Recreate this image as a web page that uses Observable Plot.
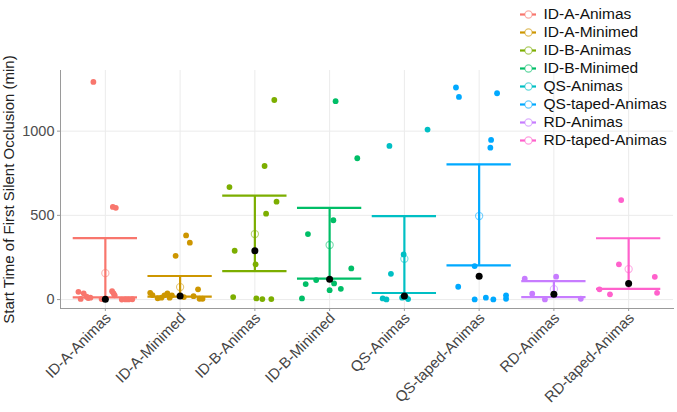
<!DOCTYPE html>
<html>
<head>
<meta charset="utf-8">
<script src="https://cdn.jsdelivr.net/npm/d3@7"></script>
<script src="https://cdn.jsdelivr.net/npm/@observablehq/plot@0.6"></script>
<style>
  html, body { margin: 0; padding: 0; background: #fff; }
  #wrap { position: relative; width: 677px; height: 412px; font-family: "Liberation Sans", Arial, sans-serif; }
  #chart svg, #legend svg { display: block; }
  #legend { position: absolute; left: 510px; top: 0px; }
</style>
</head>
<body>
<div id="wrap"><div id="chart"></div><div id="legend"></div></div>
<script>
// ---- data ----
const categories = ["ID-A-Animas", "ID-A-Minimed", "ID-B-Animas", "ID-B-Minimed",
  "QS-Animas", "QS-taped-Animas", "RD-Animas", "RD-taped-Animas"];

// individual observations per category (min)
const pointValues = [
  [1292, 550, 545, 46, 37, 17, 9, 11, 50, 37, 25, 1, 2, 3, 0, 4, 1],
  [381, 338, 260, 61, 40, 27, 11, 25, 37, 11, 25, 5, 5, 15, 8, 20],
  [1185, 793, 668, 581, 510, 290, 209, 15, 7, 3, 3],
  [1178, 839, 471, 389, 185, 116, 92, 96, 56, 64, 7],
  [1009, 912, 268, 153, 7, 1, 11, 3, 25, 15],
  [1259, 1203, 1225, 948, 902, 199, 76, 1, 11, 1, 25, 5],
  [136, 124, 35, 1, 5],
  [591, 209, 135, 61, 31, 40]
];
// horizontal jitter of each observation (fraction of category spacing)
const pointJitter = [
  [-0.16, 0.10, 0.14, -0.36, -0.29, -0.25, -0.23, -0.20, 0.09, 0.11, 0.125, 0.31, 0.36, -0.05, 0.22, -0.33, 0.27],
  [0.08, 0.13, -0.06, 0.24, -0.40, -0.37, -0.25, -0.21, -0.17, -0.14, -0.11, 0.26, 0.30, 0.05, -0.30, 0.18],
  [0.26, 0.13, -0.34, 0.29, 0.15, -0.27, 0.01, -0.29, 0.02, 0.10, 0.22],
  [0.08, 0.37, 0.05, -0.29, 0.29, -0.18, -0.32, 0.06, 0.00, 0.15, -0.37],
  [0.31, -0.20, -0.01, -0.18, -0.29, -0.24, -0.03, 0.05, 0.00, 0.02],
  [-0.31, -0.27, 0.24, 0.16, 0.15, -0.06, -0.28, -0.06, 0.09, 0.19, 0.36, 0.36],
  [0.03, -0.39, -0.29, -0.12, 0.36],
  [-0.10, -0.13, 0.35, -0.39, -0.25, 0.38]
];
// summary statistics per category
const means   = [157, 74, 389, 324, 242, 496, 62, 181];
const medians = [2, 21, 290, 120, 21, 138, 31, 96];
const lowers  = [13, 17, 169, 124, 39, 203, 15, 64];
const uppers  = [365, 140, 617, 544, 496, 803, 110, 364];

const yTicks = [0, 500, 1000];
const yLabel = "Start Time of First Silent Occlusion (min)";

// ---- styles ----
const palette = ["#F8766D", "#CD9600", "#7CAE00", "#00BE67", "#00BFC4", "#00A9FF", "#C77CFF", "#FF61CC"];
const font = '"Liberation Sans", Arial, sans-serif';
const capHalf = 0.43;

// ---- build tables ----
const points = [];
pointValues.forEach((vals, i) => vals.forEach((v, j) => points.push({
  cat: categories[i], pos: i + 1 + pointJitter[i][j], value: v
})));
const summary = categories.map((c, i) => ({
  cat: c, pos: i + 1, mean: means[i], median: medians[i], lower: lowers[i], upper: uppers[i]
}));
const positions = categories.map((c, i) => i + 1);

const chart = Plot.plot({
  width: 677, height: 412,
  marginTop: 70, marginBottom: 104, marginLeft: 60, marginRight: 4,
  style: { fontFamily: font, fontSize: "14px", background: "white", overflow: "visible" },
  x: { type: "linear", domain: [0.4, 8.6] },
  y: { domain: [-53, 1360] },
  color: { domain: categories, range: palette },
  marks: [
    Plot.gridY(yTicks, { stroke: "#ebebeb", strokeOpacity: 1, strokeWidth: 1 }),
    Plot.gridX(positions, { stroke: "#ebebeb", strokeOpacity: 1, strokeWidth: 1 }),
    Plot.axisY(yTicks, { tickSize: 3, tickPadding: 3, fontSize: 14.5, fill: "#4d4d4d", stroke: "#9a9a9a",
      tickFormat: (d) => String(d), label: null }),
    // x tick marks
    Plot.axisX(positions, { tickSize: 3, stroke: "#9a9a9a", tickFormat: () => "", label: null }),
    // x tick labels (rotated)
    Plot.axisX(positions, { tickSize: 0, tickPadding: 6, fontSize: 15, fill: "#444",
      tickFormat: (d) => categories[d - 1], tickRotate: -45, textAnchor: "end", dx: 3, dy: 1, label: null }),
    Plot.frame({ anchor: "left", stroke: "#9a9a9a" }),
    Plot.frame({ anchor: "bottom", stroke: "#9a9a9a" }),
    Plot.text([yLabel], { frameAnchor: "left", rotate: -90, dx: -51, fontSize: 15, fill: "#222", textAnchor: "middle" }),
    // error bars
    Plot.ruleX(summary, { x: "pos", y1: "lower", y2: "upper", stroke: "cat", strokeWidth: 2.2 }),
    Plot.ruleY(summary, { y: "upper", x1: (d) => d.pos - capHalf, x2: (d) => d.pos + capHalf, stroke: "cat", strokeWidth: 2.2 }),
    Plot.ruleY(summary, { y: "lower", x1: (d) => d.pos - capHalf, x2: (d) => d.pos + capHalf, stroke: "cat", strokeWidth: 2.2 }),
    // observations
    Plot.dot(points, { x: "pos", y: "value", fill: "cat", r: 2.9 }),
    // mean (open) and median (black)
    Plot.dot(summary, { x: "pos", y: "mean", stroke: "cat", strokeOpacity: 0.55, fill: "none", r: 3.6, strokeWidth: 1.1 }),
    Plot.dot(summary, { x: "pos", y: "median", fill: "black", r: 3.5 })
  ]
});
document.getElementById("chart").appendChild(chart);

// ---- legend (overlaid at top right) ----
const legend = Plot.plot({
  width: 167, height: 152, margin: 0,
  style: { fontFamily: font, fontSize: "15px", background: "transparent", overflow: "visible" },
  x: { type: "linear", domain: [0, 1], range: [10, 26], axis: null },
  y: { type: "point", domain: categories, range: [11, 142], padding: 0, axis: null },
  color: { domain: categories, range: palette },
  marks: [
    Plot.ruleY(categories, { y: (d) => d, x1: 0, x2: 1, stroke: (d) => d, strokeWidth: 2.2 }),
    Plot.dot(categories, { y: (d) => d, x: 0.5, stroke: (d) => d, strokeOpacity: 0.6, fill: "white", r: 3.6, strokeWidth: 1.1 }),
    Plot.text(categories, { y: (d) => d, x: 1, dx: 7, text: (d) => d, textAnchor: "start", fill: "#111", fontSize: 15.5 })
  ]
});
document.getElementById("legend").appendChild(legend);
</script>
</body>
</html>
